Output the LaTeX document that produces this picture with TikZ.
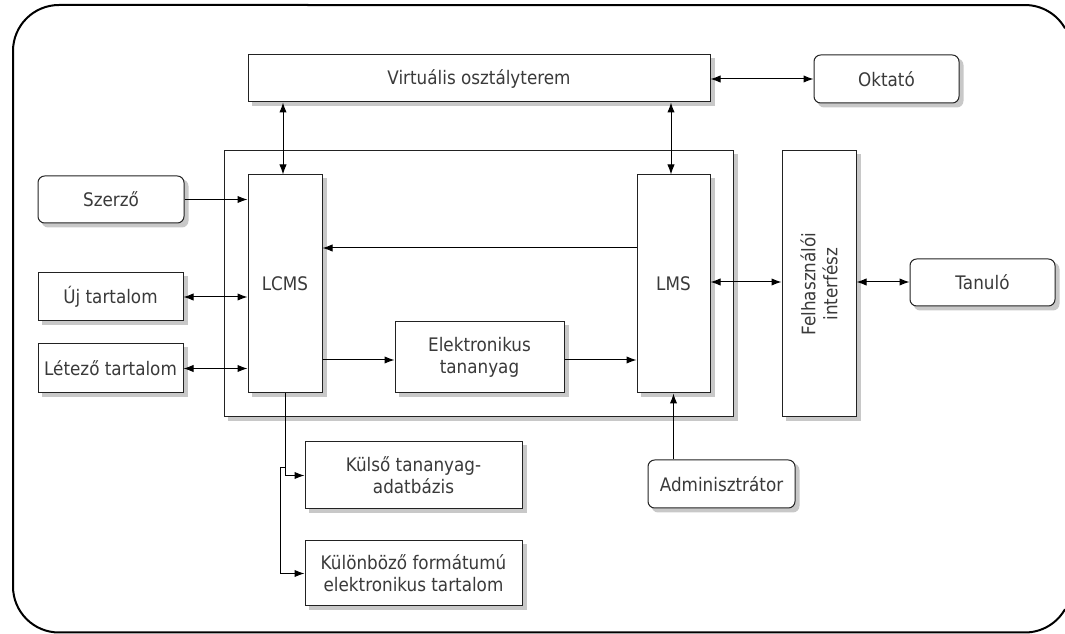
\documentclass[tikz,border=0pt]{standalone}
\usepackage{fontspec}
\setmainfont{DejaVu Sans}[FakeStretch=0.9]
\usetikzlibrary{arrows.meta,calc}
\definecolor{textgray}{HTML}{3A3A3A}
\definecolor{linegray}{HTML}{222222}
\definecolor{shadowgray}{HTML}{C8C8C8}
\pgfdeclarelayer{backshade}
\pgfdeclarelayer{back}
\pgfdeclarelayer{shade}
\pgfsetlayers{backshade,back,shade,main}
\begin{document}
\begin{tikzpicture}[x=0.75pt,y=-0.75pt,
  every node/.style={font=\fontsize{14}{16.5}\selectfont, text=textgray},
  sz/.style 2 args={minimum width=#1*0.75pt, minimum height=#2*0.75pt},
  box/.style={draw=linegray, line width=0.75pt, fill=white, inner sep=0pt,
    align=center},
  actor/.style={box, rounded corners=5pt},
  arr/.style={-{Latex[length=7.5pt,width=5.5pt]}, line width=0.75pt, draw=black},
  dbl/.style={{Latex[length=7.5pt,width=5.5pt]}-{Latex[length=7.5pt,width=5.5pt]},
    line width=0.75pt, draw=black}]
\useasboundingbox (0,0) rectangle (1065,634);

% outer rounded frame; its right side lies beyond the page edge
\draw[line width=1.5pt]
  (1065,28.3) arc[start angle=330.4, end angle=270, radius=46]
  -- (59,5) arc[start angle=270, end angle=180, radius=46]
  -- (13,586.5) arc[start angle=180, end angle=90, radius=46]
  -- (1025,632.5) arc[start angle=90, end angle=29.6, radius=46];

% main system block with its shadow
\begin{pgfonlayer}{back}
  \node[box, sz={509}{266}] (cont) at (478.5,284) {};
\end{pgfonlayer}
\begin{pgfonlayer}{backshade}
  \fill[shadowgray] ($(cont.north west)+(4,4)$) rectangle ($(cont.south east)+(4,4)$);
\end{pgfonlayer}

% components
\node[box, sz={462}{47}] (virt) at (479,78.5) {Virtuális osztályterem};
\node[actor, sz={145}{48}] (okt) at (886.5,79) {Oktató};
\node[box, sz={74}{218}] (lcms) at (285,284) {LCMS};
\node[box, sz={73}{218}] (lms) at (673.5,284) {LMS};
\node[box, sz={74}{266}] (felh) at (819,284) {};
\node[rotate=90, align=center] at (felh) {Felhasználói\\interfész};
\node[actor, sz={145}{47}] (tan) at (982.5,282.5) {Tanuló};
\node[actor, sz={146}{47}] (szerzo) at (111,199.5) {Szerző};
\node[box, sz={145}{48}] (uj) at (110.5,297) {Új tartalom};
\node[box, sz={145}{49}] (letezo) at (110.5,368.5) {Létező tartalom};
\node[box, sz={169}{71}] (elek) at (479.5,357.5) {Elektronikus\\tananyag};
\node[box, sz={217}{67}] (kulso) at (413.5,475.5) {Külső tananyag-\\adatbázis};
\node[box, sz={217}{65}] (kulon) at (413.5,573.5) {Különböző formátumú\\elektronikus tartalom};
\node[actor, sz={147}{48}] (admin) at (721.5,484) {Adminisztrátor};

% drop shadows behind the components
\begin{pgfonlayer}{shade}
  \foreach \n in {virt,lcms,lms,felh,uj,letezo,elek,kulso,kulon}
    \fill[shadowgray] ($(\n.north west)+(4,4)$) rectangle ($(\n.south east)+(4,4)$);
  \foreach \n in {okt,tan,szerzo,admin}
    \fill[shadowgray, rounded corners=5pt] ($(\n.north west)+(4,4)$) rectangle ($(\n.south east)+(4,4)$);
\end{pgfonlayer}

% connectors
\draw[dbl] (okt.west -| virt.east) -- (okt.west);
\draw[dbl] (lcms.north -| 283,0) -- (virt.south -| 283,0);
\draw[dbl] (lms.north -| 671,0) -- (virt.south -| 671,0);
\draw[arr] (szerzo.east) -- (szerzo.east -| lcms.west);
\draw[dbl] (uj.east) -- (uj.east -| lcms.west);
\draw[dbl] (letezo.east) -- (letezo.east -| lcms.west);
\draw[arr] (lms.west |- 0,248) -- (lcms.east |- 0,248);
\draw[arr] (lcms.east |- 0,360) -- (elek.west |- 0,360);
\draw[arr] (elek.east |- 0,360) -- (lms.west |- 0,360);
\draw[dbl] (lms.east |- 0,282) -- (felh.west |- 0,282);
\draw[dbl] (felh.east |- 0,282) -- (tan.west |- 0,282);
\draw[arr] (admin.north -| lms.south) -- (lms.south);
\draw[arr] (lcms.south) |- (kulso.west);
\coordinate (br) at (lcms.south |- 0,468);
\draw[arr] (br) -- ++(-5,0) |- (kulon.west);
\end{tikzpicture}
\end{document}
